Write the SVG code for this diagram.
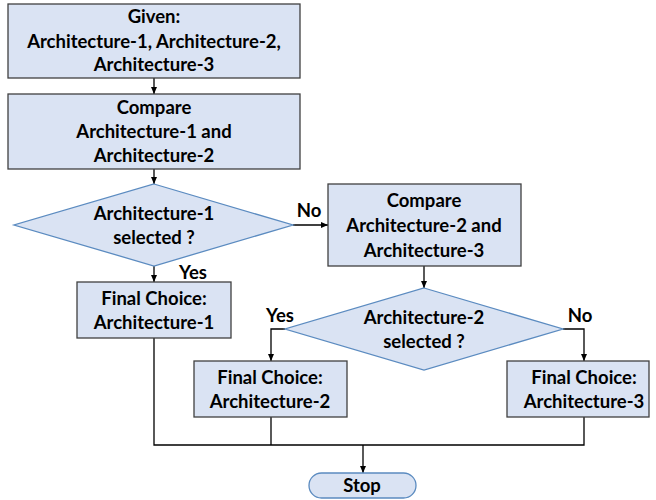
<svg xmlns="http://www.w3.org/2000/svg" width="656" height="500" viewBox="0 0 656 500">
<defs>
<marker id="ah" markerWidth="8" markerHeight="8" refX="7" refY="4" orient="auto" markerUnits="userSpaceOnUse">
<path d="M0,1 L7,4 L0,7 Z" fill="#000"/>
</marker>
<style>
.box{fill:#DAE3F3;stroke:#404040;stroke-width:1.3}
.dia{fill:#DAE3F3;stroke:#5B8BC0;stroke-width:1.3}
.t{font-family:Lato,"Liberation Sans",sans-serif;font-weight:bold;font-size:18.5px;fill:#000;text-anchor:middle}
.c{fill:none;stroke:#000;stroke-width:1.3}
</style>
</defs>
<rect width="656" height="500" fill="#fff"/>
<g id="connectors">
<line class="c" x1="154" y1="78" x2="154" y2="94" marker-end="url(#ah)"/>
<line class="c" x1="154" y1="169" x2="154" y2="184" marker-end="url(#ah)"/>
<line class="c" x1="154" y1="266" x2="154" y2="282" marker-end="url(#ah)"/>
<line class="c" x1="293" y1="225" x2="328" y2="225" marker-end="url(#ah)"/>
<line class="c" x1="424" y1="266" x2="424" y2="288" marker-end="url(#ah)"/>
<polyline class="c" points="285,329 271,329 271,361" marker-end="url(#ah)"/>
<polyline class="c" points="563,329 584,329 584,361" marker-end="url(#ah)"/>
<polyline class="c" points="154,338 154,445 584,445 584,417"/>
<line class="c" x1="271" y1="417" x2="271" y2="445"/>
<line class="c" x1="363" y1="445" x2="363" y2="473" marker-end="url(#ah)"/>
<text class="t" x="193" y="279">Yes</text>
<text class="t" x="309" y="217">No</text>
<text class="t" x="280" y="322">Yes</text>
<text class="t" x="580" y="322">No</text>
</g>
<g id="given">
<rect class="box" x="8" y="4" width="292" height="74"/>
<text class="t" x="154" y="23">Given:</text>
<text class="t" x="154" y="48">Architecture-1, Architecture-2,</text>
<text class="t" x="154" y="71">Architecture-3</text>
</g>
<g id="compare12">
<rect class="box" x="8" y="94" width="292" height="75"/>
<text class="t" x="154" y="114">Compare</text>
<text class="t" x="154" y="138">Architecture-1 and</text>
<text class="t" x="154" y="162">Architecture-2</text>
</g>
<g id="decision1">
<polygon class="dia" points="154,184 293,225 154,266 14,225"/>
<text class="t" x="154" y="220">Architecture-1</text>
<text class="t" x="154" y="244">selected ?</text>
</g>
<g id="final1">
<rect class="box" x="77" y="282" width="154" height="56"/>
<text class="t" x="154" y="305">Final Choice:</text>
<text class="t" x="154" y="329">Architecture-1</text>
</g>
<g id="compare23">
<rect class="box" x="328" y="184" width="193" height="82"/>
<text class="t" x="424" y="207">Compare</text>
<text class="t" x="424" y="232">Architecture-2 and</text>
<text class="t" x="424" y="257">Architecture-3</text>
</g>
<g id="decision2">
<polygon class="dia" points="424,288 563,329 424,370 285,329"/>
<text class="t" x="424" y="324">Architecture-2</text>
<text class="t" x="424" y="348">selected ?</text>
</g>
<g id="final2">
<rect class="box" x="194" y="361" width="153" height="56"/>
<text class="t" x="270" y="384">Final Choice:</text>
<text class="t" x="270" y="408">Architecture-2</text>
</g>
<g id="final3">
<rect class="box" x="507" y="361" width="142" height="56"/>
<text class="t" x="584" y="384">Final Choice:</text>
<text class="t" x="584" y="408">Architecture-3</text>
</g>
<g id="stop">
<rect class="dia" x="309" y="473" width="107" height="25" rx="12.5"/>
<text class="t" x="362" y="492">Stop</text>
</g>
</svg>
